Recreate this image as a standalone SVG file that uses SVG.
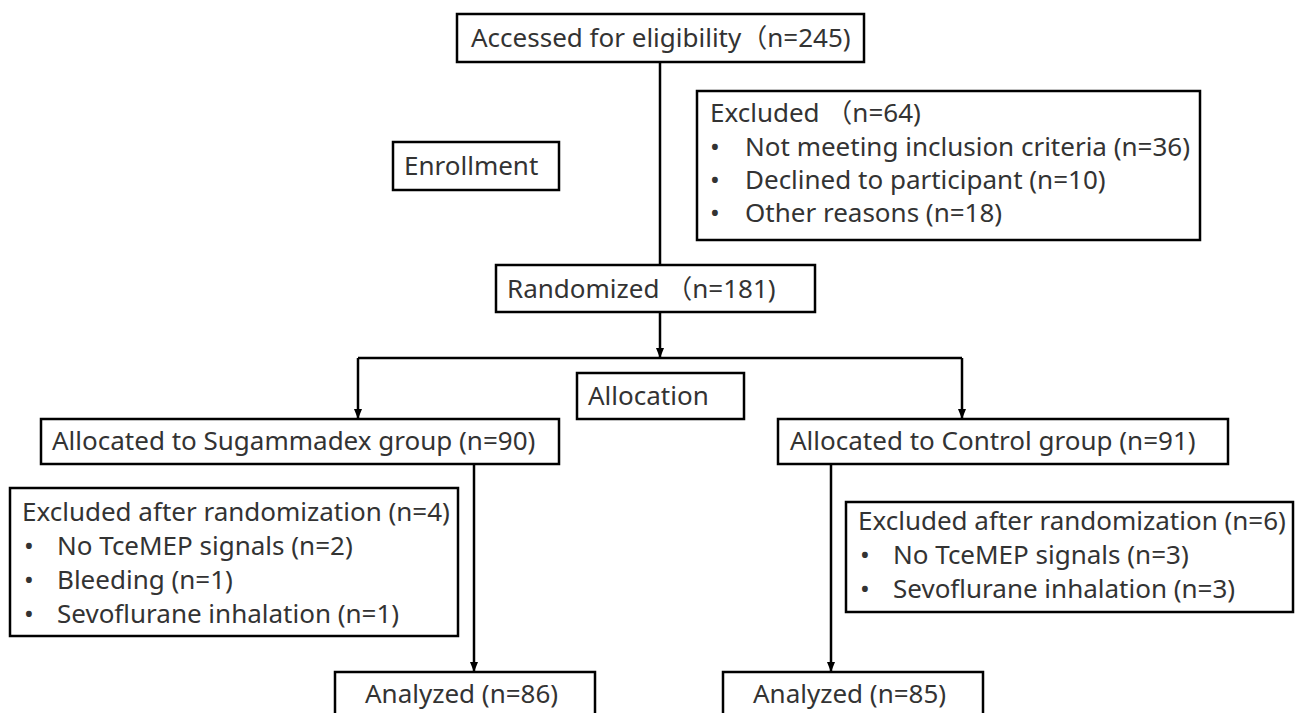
<svg xmlns="http://www.w3.org/2000/svg" width="1296" height="713" viewBox="0 0 1296 713">
<defs>
<marker id="arr" markerWidth="10" markerHeight="10" refX="9" refY="5" orient="auto" markerUnits="userSpaceOnUse">
<path d="M0,1 L10,5 L0,9 Z" fill="#000"/>
</marker>
<style>
rect{fill:#fff;stroke:#000;stroke-width:2.5}
text{font-family:"Noto Sans","Noto Sans CJK SC",sans-serif;font-size:26px;fill:#333}
.c{fill:none;stroke:#000;stroke-width:2.5}
</style>
</defs>
<rect width="1296" height="713" style="fill:#fff;stroke:none"/>
<g id="connectors">
<path class="c" d="M660,62 V265"/>
<path class="c" d="M660,312 V357" marker-end="url(#arr)"/>
<path class="c" d="M358,358 H962"/>
<path class="c" d="M358,358 V418" marker-end="url(#arr)"/>
<path class="c" d="M962,358 V418" marker-end="url(#arr)"/>
<path class="c" d="M474,464 V671" marker-end="url(#arr)"/>
<path class="c" d="M831,464 V671" marker-end="url(#arr)"/>
</g>
<g id="n_assessed"><rect x="457" y="14" width="407" height="48"/><text x="471" y="47">Accessed for eligibility（n=245)</text></g>
<g id="n_excluded"><rect x="697" y="91" width="503" height="149"/>
<text x="710" y="122">Excluded （n=64)</text>
<text x="710" y="156">•</text><text x="745" y="156">Not meeting inclusion criteria (n=36)</text>
<text x="710" y="189">•</text><text x="745" y="189">Declined to participant (n=10)</text>
<text x="710" y="222">•</text><text x="745" y="222">Other reasons (n=18)</text></g>
<g id="n_enrollment"><rect x="393" y="142" width="166" height="48"/><text x="404" y="175">Enrollment</text></g>
<g id="n_randomized"><rect x="496" y="265" width="319" height="47"/><text x="507" y="298">Randomized （n=181)</text></g>
<g id="n_allocation"><rect x="577" y="373" width="167" height="46"/><text x="588" y="405">Allocation</text></g>
<g id="n_sug"><rect x="41" y="419" width="518" height="45"/><text x="52" y="450">Allocated to Sugammadex group (n=90)</text></g>
<g id="n_ctrl"><rect x="778" y="419" width="450" height="45"/><text x="790" y="450">Allocated to Control group (n=91)</text></g>
<g id="n_sug_excl"><rect x="10" y="488" width="448" height="148"/>
<text x="22" y="521">Excluded after randomization (n=4)</text>
<text x="24" y="555">•</text><text x="57" y="555">No TceMEP signals (n=2)</text>
<text x="24" y="589">•</text><text x="57" y="589">Bleeding (n=1)</text>
<text x="24" y="623">•</text><text x="57" y="623">Sevoflurane inhalation (n=1)</text></g>
<g id="n_ctrl_excl"><rect x="846" y="502" width="447" height="110"/>
<text x="858" y="530">Excluded after randomization (n=6)</text>
<text x="860" y="564">•</text><text x="893" y="564">No TceMEP signals (n=3)</text>
<text x="860" y="598">•</text><text x="893" y="598">Sevoflurane inhalation (n=3)</text></g>
<g id="n_an_sug"><rect x="335" y="672" width="260" height="60"/><text x="365" y="703">Analyzed (n=86)</text></g>
<g id="n_an_ctrl"><rect x="723" y="672" width="260" height="60"/><text x="753" y="703">Analyzed (n=85)</text></g>
</svg>
